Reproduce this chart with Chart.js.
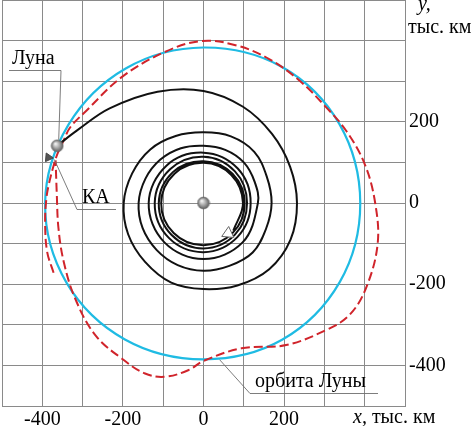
<!DOCTYPE html>
<html><head><meta charset="utf-8">
<script src="https://cdn.jsdelivr.net/npm/chart.js@4.4.1/dist/chart.umd.min.js"></script>
<style>html,body{margin:0;padding:0;background:#fff;}canvas{display:block;}</style>
</head><body>
<canvas id="c" width="475" height="426"></canvas>
<script>
// ---- data (thousand km) ----
const xTickLabels = [-400, -200, 0, 200];
const yTickLabels = [200, 0, -200, -400];

// Moon orbit (cyan), closed: first and last entries overlap the loop
const orbitX = [338, 389, 337, 195, 0, -192, -335, -393, -340, -195, 0, 195, 338, 389, 337];
const orbitY = [-195, 0, 195, 335, 383, 332, 193, 0, -196, -336, -385, -337, -195, 0, 195];

// spacecraft spiral trajectory (black)
const spiralX = [74,
  98, 69, 0, -72, -105, -74, 0, 73,
  102, 72, 0, -76, -111, -79, 0, 78,
  108, 78, 0, -83, -121, -86, 0, 84,
  117, 85, 0, -92, -136, -97, 0, 97,
  135, 127, 100, 54, 0, -56, -107, -144, -161, -151, -116, -64, 0, 64, 122, 155,
  169, 157, 126, 68, 0, -69, -132, -177, -198, -187, -145, -80, 0, 84, 163, 216,
  232, 215, 170, 98, 0, -114, -233, -312, -362];
const spiralY = [-68,
  0, 69, 99, 72, 0, -74, -104, -73,
  0, 72, 103, 76, 0, -79, -112, -78,
  0, 78, 114, 83, 0, -86, -121, -84,
  0, 85, 124, 92, 0, -97, -138, -97,
  0, 52, 100, 131, 141, 135, 107, 60, 0, -62, -116, -153, -167, -155, -122, -64,
  0, 65, 126, 164, 174, 165, 132, 73, 0, -77, -145, -196, -212, -203, -163, -90,
  0, 89, 170, 237, 276, 274, 233, 180, 142];

// red dashed trajectory
const redX = [-372, -388, -393, -390, -384, -372, -362, -348, -331, -290, -203, -96, -5, 82, 164, 240, 304, 354, 400, 426, 432, 403, 362, 304, 205, 94, 0, -38, -96, -145, -203, -269, -319, -347, -360, -364, -367];
const redY = [-172, -120, -50, 10, 45, 92, 122, 152, 186, 228, 310, 372, 399, 388, 354, 300, 236, 178, 96, 0, -102, -210, -276, -313, -350, -358, -389, -412, -428, -420, -383, -325, -234, -144, -61, 21, 105];

// bodies and markers
const earthPos = [0, 0];
const moonPos = [-363, 141];
const craftPos = [-385, 112];
const startPos = [61, -75];
const orbitLabelAnchor = [40, -386];

const labelMoon = 'Луна';
const labelCraft = 'КА';
const labelOrbit = 'орбита Луны';
const axisYName = 'y,';
const axisXName = 'x,';
const unitText = 'тыс. км';

// ---- helpers ----
const pts = (xs, ys) => xs.map((v, i) => ({x: v, y: ys[i]}));

function sphere(r) {
  const s = 2 * r + 2;
  const c = document.createElement('canvas');
  c.width = s; c.height = s;
  const g = c.getContext('2d');
  const grd = g.createRadialGradient(s/2 - r*0.3, s/2 - r*0.35, r*0.1, s/2, s/2, r);
  grd.addColorStop(0, '#f0f0f0');
  grd.addColorStop(0.55, '#a0a0a0');
  grd.addColorStop(1, '#5c5c5c');
  g.fillStyle = grd;
  g.beginPath(); g.arc(s/2, s/2, r, 0, Math.PI*2); g.fill();
  g.strokeStyle = '#666'; g.lineWidth = 0.6; g.stroke();
  return c;
}
const ball = sphere(6);

const SERIF = '"Liberation Serif", "Times New Roman", serif';
const gridColor = '#8a8a8a';
const orbitColor = '#1fbbe3';

const annotations = {
  id: 'annotations',
  afterDatasetsDraw(chart) {
    const {ctx, scales: {x, y}} = chart;
    const px = p => [x.getPixelForValue(p[0]), y.getPixelForValue(p[1])];
    ctx.save();
    ctx.strokeStyle = '#6e6e6e';
    ctx.lineWidth = 0.9;
    const moon = px(moonPos), craft = px(craftPos), orb = px(orbitLabelAnchor);
    ctx.beginPath();
    ctx.moveTo(9, 70.5); ctx.lineTo(61, 70.5); ctx.lineTo(moon[0] + 1.5, moon[1] - 6);
    ctx.stroke();
    ctx.beginPath();
    ctx.moveTo(116, 209.5); ctx.lineTo(77, 209.5); ctx.lineTo(craft[0] + 6, craft[1] + 2);
    ctx.stroke();
    ctx.beginPath();
    ctx.moveTo(378, 393.5); ctx.lineTo(250, 393.5); ctx.lineTo(orb[0], orb[1]);
    ctx.stroke();

    ctx.fillStyle = '#000';
    ctx.textBaseline = 'alphabetic';
    ctx.textAlign = 'left';
    ctx.font = '20px ' + SERIF;
    ctx.fillText(labelMoon, 12, 64);
    ctx.fillText(labelCraft, 82, 203);
    ctx.fillText(labelOrbit, 255, 387);
    ctx.fillText(unitText, 408, 33);
    ctx.font = 'italic 20px ' + SERIF;
    ctx.fillText(axisYName, 418, 10);
    const wx = ctx.measureText(axisXName + ' ').width;
    ctx.fillText(axisXName, 353, 423);
    ctx.font = '20px ' + SERIF;
    ctx.fillText(unitText, 353 + wx, 423);
    ctx.restore();
  }
};

const lastOrbitSeg = orbitX.length - 2;

new Chart(document.getElementById('c'), {
  type: 'scatter',
  data: {
    datasets: [
      {
        data: [ {x: earthPos[0], y: earthPos[1]}, {x: moonPos[0], y: moonPos[1]} ],
        pointStyle: ball, pointRadius: 6, showLine: false
      },
      {
        data: [ {x: craftPos[0], y: craftPos[1]}, {x: startPos[0], y: startPos[1]} ],
        pointStyle: 'triangle', pointRadius: [5, 7],
        pointRotation: [-25, 5],
        pointBackgroundColor: ['#555555', '#ffffff'],
        pointBorderColor: ['#444444', '#666666'],
        pointBorderWidth: 1, showLine: false
      },
      {
        data: pts(spiralX, spiralY), showLine: true, tension: 0.37,
        borderColor: '#111111', borderWidth: 2, pointRadius: 0, fill: false
      },
      {
        data: pts(redX, redY), showLine: true, tension: 0.37,
        borderColor: '#d0242b', borderWidth: 2, borderDash: [9, 4],
        pointRadius: 0, fill: false
      },
      {
        data: pts(orbitX, orbitY), showLine: true, tension: 0.35,
        borderColor: orbitColor, borderWidth: 2.2, pointRadius: 0, fill: false,
        segment: {
          borderColor: c => (c.p0DataIndex === 0 || c.p0DataIndex === lastOrbitSeg) ? 'rgba(0,0,0,0)' : orbitColor
        }
      }
    ]
  },
  options: {
    responsive: false,
    animation: false,
    devicePixelRatio: 1,
    layout: { autoPadding: false, padding: { left: 2, top: 0, right: 0, bottom: 0 } },
    plugins: { legend: { display: false }, tooltip: { enabled: false } },
    elements: { point: { hoverRadius: 0 } },
    scales: {
      x: {
        type: 'linear', position: 'bottom', min: -500, max: 500,
        afterFit: s => { s.height = 20; s.paddingLeft = 0; s.paddingRight = 0; },
        grid: { color: gridColor, lineWidth: 1, drawTicks: false },
        border: { color: gridColor, width: 1 },
        ticks: {
          stepSize: 100, autoSkip: false, maxRotation: 0, padding: 2,
          color: '#000', font: { family: SERIF, size: 20 },
          callback: v => xTickLabels.includes(v) ? String(v) : ''
        }
      },
      y: {
        type: 'linear', position: 'right', min: -500, max: 500,
        afterFit: s => { s.width = 70; s.paddingTop = 0; s.paddingBottom = 0; },
        grid: { color: gridColor, lineWidth: 1, drawTicks: false },
        border: { color: gridColor, width: 1 },
        ticks: {
          stepSize: 100, autoSkip: false, padding: 4,
          color: '#000', font: { family: SERIF, size: 20 },
          callback: v => yTickLabels.includes(v) ? String(v) : ''
        }
      }
    }
  },
  plugins: [annotations]
});
</script>
</body></html>
